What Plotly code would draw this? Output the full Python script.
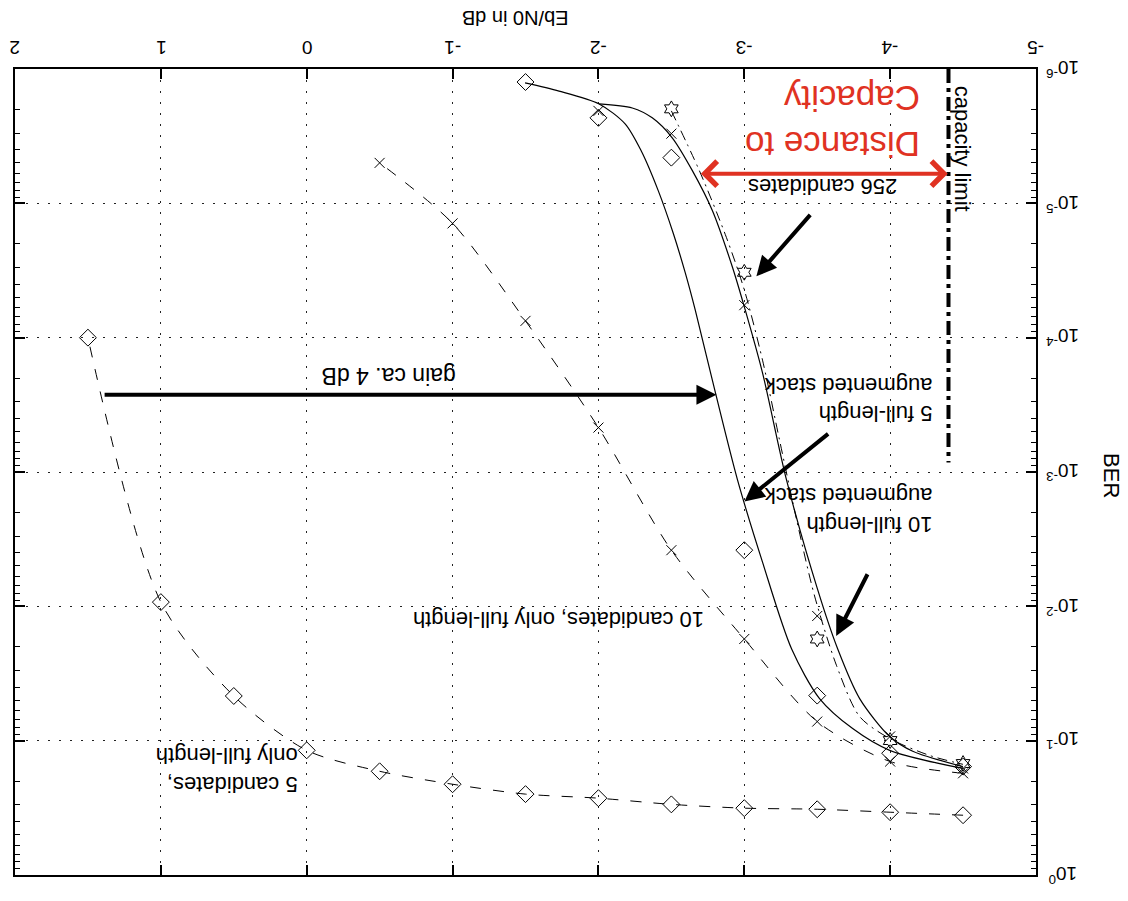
import plotly.graph_objects as go

# ---------------- data ----------------
# 5 candidates, only full-length (dashed, diamonds)
ebno_5c = [-4.5, -4.0, -3.5, -3.0, -2.5, -2.0, -1.5, -1.0, -0.5, 0.0, 0.5, 1.0, 1.5]
ber_5c = [0.359, 0.341, 0.324, 0.318, 0.298, 0.268, 0.250, 0.211, 0.169, 0.118, 0.0465, 0.0093, 1.0e-4]

# 10 candidates, only full-length (dashed, x)
ebno_10c = [-4.5, -4.0, -3.5, -3.0, -2.5, -2.0, -1.5, -1.0, -0.5]
ber_10c = [0.175, 0.143, 0.0721, 0.0175, 3.82e-3, 4.67e-4, 7.5e-5, 1.41e-5, 5.0e-6]

# 5 full-length augmented stack (simulated points, diamonds)
ebno_5a = [-4.5, -4.0, -3.5, -3.0, -2.5, -2.0, -1.5]
ber_5a = [0.156, 0.124, 0.0462, 3.82e-3, 4.57e-6, 2.31e-6, 1.25e-6]

# 10 full-length augmented stack (simulated points, x)
ebno_10a = [-4.5, -4.0, -3.5, -3.0, -2.5, -2.0]
ber_10a = [0.161, 0.093, 0.0118, 5.73e-5, 3.03e-6, 2.05e-6]

# 256 candidates (simulated points, hexagram)
ebno_256 = [-4.5, -4.0, -3.5, -3.0, -2.5]
ber_256 = [0.148, 0.0998, 0.0175, 3.26e-5, 1.98e-6]

# smooth solid curve: 5 full-length augmented stack
fit5_ebno = [-1.497, -1.730, -2.005, -2.183, -2.293, -2.410, -2.513, -2.596, -2.664, -2.802, -2.953,
             -3.125, -3.324, -3.516, -3.743, -3.997, -4.499]
fit5_ber = [1.27e-6, 1.46e-6, 1.82e-6, 2.56e-6, 4.06e-6, 8.04e-6, 1.67e-5, 3.31e-5, 6.24e-5, 2.57e-4, 1.14e-3,
            4.69e-3, 0.0207, 0.0486, 0.0813, 0.118, 0.161]

# smooth solid curve: 10 full-length augmented stack
fit10_ebno = [-2.005, -2.232, -2.369, -2.506, -2.644, -2.781, -2.919, -3.001, -3.125, -3.289, -3.502,
              -3.640, -3.791, -3.997, -4.155, -4.499]
fit10_ber = [1.82e-6, 1.95e-6, 2.31e-6, 3.25e-6, 5.71e-6, 1.13e-5, 2.99e-5, 5.93e-5, 1.83e-4, 1.14e-3, 7.45e-3,
             0.0207, 0.0486, 0.0931, 0.120, 0.156]

# dash-dot curve: 256 candidates
fit256_ebno = [-2.500, -2.692, -2.877, -3.001, -3.125, -3.241, -3.358, -3.482, -3.633, -3.791, -3.997, -4.272, -4.499]
fit256_ber = [2.05e-6, 5.71e-6, 1.79e-5, 4.44e-5, 1.47e-4, 5.74e-4, 2.25e-3, 8.38e-3, 0.0277, 0.0662,
              0.0964, 0.129, 0.150]

# capacity limit
cap_ebno = [-4.4, -4.4]
cap_ber = [1e-6, 8.5e-4]

x_ticks = [-5, -4, -3, -2, -1, 0, 1, 2]
x_ticktext = ["-5", "-4", "-3", "-2", "-1", "0", "1", "2"]
y_tick_exp = [-6, -5, -4, -3, -2, -1, 0]
y_ticks = [1e-6, 1e-5, 1e-4, 1e-3, 1e-2, 1e-1, 1e0]
y_ticktext = ["10<sup>-6</sup>", "10<sup>-5</sup>", "10<sup>-4</sup>", "10<sup>-3</sup>",
              "10<sup>-2</sup>", "10<sup>-1</sup>", "10<sup>0</sup>"]
y_minor = [m * 10.0 ** e for e in range(-6, 0) for m in range(2, 10)]

FONT = "Liberation Sans, Arial, Helvetica, sans-serif"
RED = "#e03222"

fig = go.Figure()

dash_long = "11px,12px"
SM = 0.8
fig.add_trace(go.Scatter(x=ebno_5c, y=ber_5c, mode="lines+markers",
                         line=dict(color="black", width=1, dash=dash_long, shape="spline", smoothing=SM),
                         marker=dict(symbol="diamond-open", size=13, color="black", line=dict(width=1))))
fig.add_trace(go.Scatter(x=ebno_10c, y=ber_10c, mode="lines+markers",
                         line=dict(color="black", width=1, dash=dash_long, shape="spline", smoothing=SM),
                         marker=dict(symbol="x-thin", size=10, color="black", line=dict(width=1, color="black"))))
fig.add_trace(go.Scatter(x=fit5_ebno, y=fit5_ber, mode="lines",
                         line=dict(color="black", width=1.2, shape="spline", smoothing=SM)))
fig.add_trace(go.Scatter(x=fit10_ebno, y=fit10_ber, mode="lines",
                         line=dict(color="black", width=1.2, shape="spline", smoothing=SM)))
fig.add_trace(go.Scatter(x=fit256_ebno, y=fit256_ber, mode="lines",
                         line=dict(color="black", width=1, dash="10px,5px,2px,5px", shape="spline", smoothing=SM)))
fig.add_trace(go.Scatter(x=ebno_5a, y=ber_5a, mode="markers",
                         marker=dict(symbol="diamond-open", size=13, color="black", line=dict(width=1))))
fig.add_trace(go.Scatter(x=ebno_10a, y=ber_10a, mode="markers",
                         marker=dict(symbol="x-thin", size=10, color="black", line=dict(width=1, color="black"))))
fig.add_trace(go.Scatter(x=ebno_256, y=ber_256, mode="markers",
                         marker=dict(symbol="hexagram-open", size=12, color="black", line=dict(width=1))))
fig.add_trace(go.Scatter(x=cap_ebno, y=cap_ber, mode="lines",
                         line=dict(color="black", width=4, dash="14px,5px,4px,5px")))

ann = []
def text_ann(txt, x, y, size=22, color="black", angle=180, align="left"):
    ann.append(dict(text=txt, x=x, y=y, xref="x", yref="y", showarrow=False, textangle=angle,
                    font=dict(family=FONT, size=size, color=color), align=align,
                    xanchor="center", yanchor="middle"))

def arrow(x, y, ax, ay, color="black", width=4, head=2, both=False, size=1.0):
    d = dict(text="", x=x, y=y, ax=ax, ay=ay, xref="x", yref="y", axref="x", ayref="y",
             showarrow=True, arrowhead=head, arrowwidth=width, arrowcolor=color, arrowsize=size, standoff=0)
    if both:
        d.update(arrowside="end+start", startarrowhead=head, startarrowsize=size, startstandoff=0)
    ann.append(d)

# texts (y in log10 units for the log axis)
text_ann("Distance to<br>Capacity", -3.605, -5.614, size=35, color=RED)
text_ann("256 candidates", -3.537, -5.125)
text_ann("5 full-length<br>augmented stack", -3.709, -3.538)
text_ann("10 full-length<br>augmented stack", -3.709, -2.722)
text_ann("10 candidates, only full-length", -1.730, -1.898)
text_ann("5 candidates,<br>only full-length", 0.551, -0.786)
text_ann("gain ca. 4 dB", -0.560, -3.715, size=23)
text_ann("capacity limit", -4.492, -5.407, angle=90)

# arrows
arrow(-2.809, -3.575, 1.396, -3.575)
arrow(-3.001, -2.781, -3.585, -3.293)
arrow(-3.630, -1.780, -3.850, -2.250)
arrow(-3.083, -4.457, -3.461, -4.925)
arrow(-4.395, -5.221, -2.692, -5.221, color=RED, width=4, head=4, both=True, size=1.2)

# x tick labels (upside down, above the top axis)
for v, t in zip(x_ticks, x_ticktext):
    ann.append(dict(text=t, x=v, y=1.026, xref="x", yref="paper", showarrow=False, textangle=180,
                    font=dict(family=FONT, size=19, color="black"), xanchor="center", yanchor="middle"))

# y tick labels (upside down, right of the right axis)
for e, t in zip(y_tick_exp, y_ticktext):
    ann.append(dict(text=t, x=1.0265, y=e, xref="paper", yref="y", showarrow=False, textangle=180,
                    font=dict(family=FONT, size=19, color="black"), xanchor="center", yanchor="middle"))

# axis titles
ann.append(dict(text="Eb/N0 in dB", x=0.490, y=1.0633, xref="paper", yref="paper", showarrow=False,
                textangle=180, font=dict(family=FONT, size=20, color="black"), xanchor="center", yanchor="middle"))
ann.append(dict(text="BER", x=1.0744, y=0.495, xref="paper", yref="paper", showarrow=False,
                textangle=90, font=dict(family=FONT, size=22, color="black"), xanchor="center", yanchor="middle"))

fig.update_layout(
    width=1120, height=893,
    margin=dict(l=7, r=92, t=61, b=26),
    paper_bgcolor="white", plot_bgcolor="white",
    showlegend=False,
    annotations=ann,
    font=dict(family=FONT, color="black"),
)
fig.update_xaxes(range=[2, -5], side="top", tickmode="array", tickvals=x_ticks,
                 showticklabels=False,
                 showline=True, linecolor="black", linewidth=2, mirror="ticks",
                 ticks="inside", ticklen=10, tickwidth=1.5, tickcolor="black",
                 showgrid=True, gridcolor="#222", gridwidth=1.2, griddash="2px,9px",
                 zeroline=False, automargin=False)
fig.update_yaxes(type="log", range=[0, -6], side="right", tickmode="array", tickvals=y_ticks,
                 showticklabels=False,
                 showline=True, linecolor="black", linewidth=2, mirror="ticks",
                 ticks="inside", ticklen=10, tickwidth=1.5, tickcolor="black",
                 minor=dict(tickmode="array", tickvals=y_minor, ticks="inside", ticklen=5, tickwidth=1.2,
                            tickcolor="black", showgrid=False),
                 showgrid=True, gridcolor="#222", gridwidth=1.2, griddash="2px,9px",
                 zeroline=False, automargin=False)

fig.write_html("out.html")
